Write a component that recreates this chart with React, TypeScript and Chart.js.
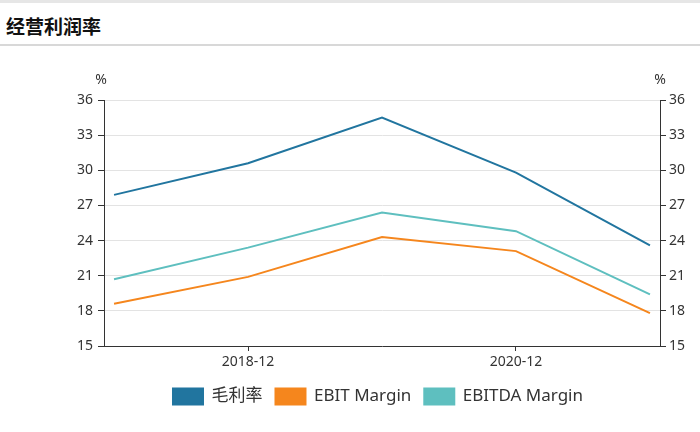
import React, { useEffect, useRef } from "react";
import { Chart, registerables } from "chart.js";

Chart.register(...registerables);

const categories = ["2017-12", "2018-12", "2019-12", "2020-12", "2021-12"];
const shownTicks = [1, 3];
const grossMargin = [27.9, 30.6, 34.5, 29.8, 23.6];
const ebitMargin = [18.6, 20.9, 24.3, 23.1, 17.8];
const ebitdaMargin = [20.7, 23.4, 26.4, 24.8, 19.4];
const seriesNames = ["毛利率", "EBIT Margin", "EBITDA Margin"];
const colors = ["#21759f", "#f5861d", "#5ebfbf"];

const FONT = "'Noto Sans', 'Noto Sans CJK SC', sans-serif";

const percentPlugin = {
  id: "percentLabels",
  afterDraw(chart: any) {
    const { ctx, chartArea } = chart;
    ctx.save();
    ctx.fillStyle = "#333";
    ctx.font = `14px ${FONT}`;
    ctx.textAlign = "center";
    ctx.textBaseline = "middle";
    ctx.fillText("%", chartArea.left - 3, chartArea.top - 20);
    ctx.fillText("%", chartArea.right, chartArea.top - 20);
    ctx.restore();
  },
};

export default function App() {
  const ref = useRef<HTMLCanvasElement>(null);
  useEffect(() => {
    if (!ref.current) return;
    const mk = (vals: number[]) => vals.map((v, i) => ({ x: i, y: v }));
    const all = [grossMargin, ebitMargin, ebitdaMargin];
    const chart = new Chart(ref.current, {
      type: "line",
      data: {
        datasets: all.map((vals, k) => ({
          label: seriesNames[k],
          data: mk(vals),
          borderColor: colors[k],
          backgroundColor: colors[k],
          borderWidth: 2,
          pointRadius: 0,
          tension: 0,
          yAxisID: "y",
        })),
      },
      options: {
        animation: false,
        responsive: false,
        maintainAspectRatio: false,
        layout: { padding: { top: 100, left: 56, right: 0, bottom: 17 } },
        plugins: {
          tooltip: { enabled: false },
          legend: {
            position: "bottom",
            labels: {
              boxWidth: 30,
              boxHeight: 16,
              padding: 13,
              color: "#333",
              font: { size: 17, family: FONT },
            },
          },
        },
        scales: {
          x: {
            type: "linear",
            min: -0.075,
            max: 4.075,
            afterBuildTicks: (axis: any) => {
              axis.ticks = shownTicks.map((v) => ({ value: v }));
            },
            afterFit: (axis: any) => {
              axis.height = 29;
            },
            grid: {
              drawOnChartArea: false,
              drawTicks: true,
              tickLength: 5,
              tickColor: "#333",
            },
            border: { color: "#333", width: 1 },
            ticks: {
              autoSkip: false,
              maxRotation: 0,
              padding: 3,
              color: "#333",
              font: { size: 14, family: FONT },
              callback: (v: any) => categories[v as number] ?? "",
            },
          },
          y: {
            position: "left",
            min: 15,
            max: 36,
            afterFit: (axis: any) => {
              axis.width = 48;
            },
            grid: {
              color: "#e3e3e3",
              tickColor: "#333",
              tickLength: 6,
            },
            border: { color: "#333", width: 1 },
            ticks: {
              stepSize: 3,
              padding: 5,
              color: "#333",
              font: { size: 14, family: FONT },
            },
          },
          y2: {
            position: "right",
            min: 15,
            max: 36,
            afterFit: (axis: any) => {
              axis.width = 40;
            },
            grid: {
              drawOnChartArea: false,
              tickColor: "#333",
              tickLength: 6,
            },
            border: { color: "#333", width: 1 },
            ticks: {
              stepSize: 3,
              padding: 3,
              color: "#333",
              font: { size: 14, family: FONT },
            },
          },
        },
      },
      plugins: [percentPlugin],
    });
    return () => chart.destroy();
  }, []);

  return (
    <div
      style={{
        position: "fixed",
        left: 0,
        top: 0,
        width: 700,
        height: 432,
        background: "#fff",
        overflow: "hidden",
      }}
    >
      <div
        style={{
          position: "absolute",
          left: 0,
          top: 0,
          width: 700,
          height: 3,
          background: "#e6e6e6",
        }}
      />
      <div
        style={{
          position: "absolute",
          left: 0,
          top: 3,
          width: 700,
          height: 41,
          borderBottom: "2px solid #d8d8d8",
          boxSizing: "content-box",
        }}
      >
        <div
          style={{
            position: "absolute",
            left: 6,
            top: 10,
            fontFamily: "'Noto Sans CJK SC', sans-serif",
            fontWeight: 700,
            fontSize: 19,
            lineHeight: "26px",
            color: "#111",
          }}
        >
          经营利润率
        </div>
      </div>
      <canvas
        ref={ref}
        width={700}
        height={432}
        style={{ position: "absolute", left: 0, top: 0, width: 700, height: 432 }}
      />
    </div>
  );
}
